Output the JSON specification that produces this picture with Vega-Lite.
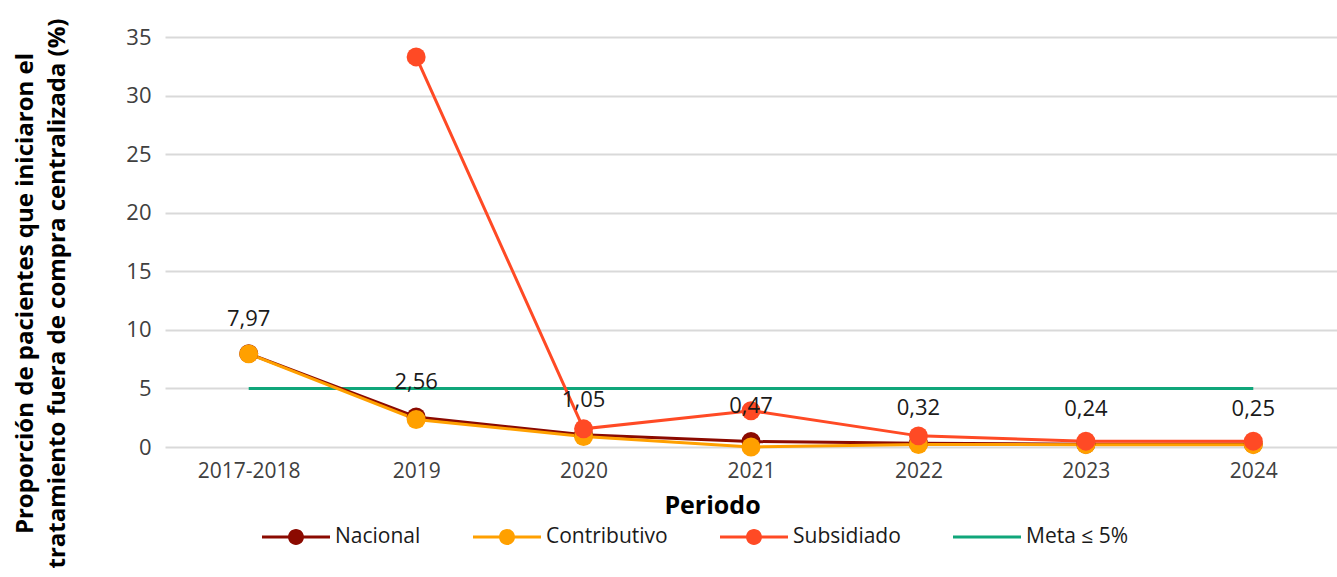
{
  "$schema": "https://vega.github.io/schema/vega-lite/v6.json",
  "width": 1172,
  "height": 410,
  "autosize": {"type": "none"},
  "padding": {"left": 165, "top": 37, "right": 0, "bottom": 130},
  "background": "white",
  "config": {
    "locale": {"number": {"decimal": ",", "thousands": ".", "grouping": [3], "currency": ["", " €"]}},
    "font": "Open Sans",
    "view": {"stroke": null},
    "axis": {"labelFont": "Open Sans", "titleFont": "Open Sans"},
    "legend": {"labelFont": "Open Sans"}
  },
  "data": {
    "values": [
      {"periodo": "2017-2018", "serie": "Meta ≤ 5%", "valor": 5},
      {"periodo": "2019", "serie": "Meta ≤ 5%", "valor": 5},
      {"periodo": "2020", "serie": "Meta ≤ 5%", "valor": 5},
      {"periodo": "2021", "serie": "Meta ≤ 5%", "valor": 5},
      {"periodo": "2022", "serie": "Meta ≤ 5%", "valor": 5},
      {"periodo": "2023", "serie": "Meta ≤ 5%", "valor": 5},
      {"periodo": "2024", "serie": "Meta ≤ 5%", "valor": 5},
      {"periodo": "2017-2018", "serie": "Nacional", "valor": 7.97},
      {"periodo": "2019", "serie": "Nacional", "valor": 2.56},
      {"periodo": "2020", "serie": "Nacional", "valor": 1.05},
      {"periodo": "2021", "serie": "Nacional", "valor": 0.47},
      {"periodo": "2022", "serie": "Nacional", "valor": 0.32},
      {"periodo": "2023", "serie": "Nacional", "valor": 0.24},
      {"periodo": "2024", "serie": "Nacional", "valor": 0.25},
      {"periodo": "2017-2018", "serie": "Contributivo", "valor": 7.95},
      {"periodo": "2019", "serie": "Contributivo", "valor": 2.35},
      {"periodo": "2020", "serie": "Contributivo", "valor": 0.9},
      {"periodo": "2021", "serie": "Contributivo", "valor": 0.0},
      {"periodo": "2022", "serie": "Contributivo", "valor": 0.22},
      {"periodo": "2023", "serie": "Contributivo", "valor": 0.2},
      {"periodo": "2024", "serie": "Contributivo", "valor": 0.2},
      {"periodo": "2019", "serie": "Subsidiado", "valor": 33.3},
      {"periodo": "2020", "serie": "Subsidiado", "valor": 1.55},
      {"periodo": "2021", "serie": "Subsidiado", "valor": 3.1},
      {"periodo": "2022", "serie": "Subsidiado", "valor": 0.95},
      {"periodo": "2023", "serie": "Subsidiado", "valor": 0.5},
      {"periodo": "2024", "serie": "Subsidiado", "valor": 0.5}
    ]
  },
  "encoding": {
    "x": {
      "field": "periodo", "type": "ordinal",
      "scale": {"type": "point", "padding": 0.5},
      "sort": ["2017-2018", "2019", "2020", "2021", "2022", "2023", "2024"],
      "axis": {
        "title": "Periodo", "labelAngle": 0, "domain": false, "ticks": false, "grid": false,
        "labelFontSize": 21, "labelColor": "#404040", "labelPadding": 13,
        "titleFontSize": 25, "titleFontWeight": "bold", "titleColor": "#000000",
        "titleX": 547, "titleY": 58, "titleBaseline": "middle"
      }
    },
    "y": {
      "field": "valor", "type": "quantitative",
      "scale": {"domain": [0, 35], "nice": false},
      "axis": {
        "values": [0, 5, 10, 15, 20, 25, 30, 35],
        "title": ["Proporción de pacientes que iniciaron el", "tratamiento fuera de compra centralizada (%)"],
        "domain": false, "ticks": false, "grid": true, "gridColor": "#D9D9D9", "gridWidth": 2,
        "labelFontSize": 22, "labelColor": "#404040", "labelPadding": 14,
        "titleFontSize": 24, "titleFontWeight": "bold", "titleColor": "#000000",
        "titleAngle": -90, "titleAlign": "center", "titleBaseline": "top",
        "titleX": -152, "titleY": 256, "titleLineHeight": 32
      }
    },
    "color": {
      "field": "serie", "type": "nominal",
      "scale": {
        "domain": ["Nacional", "Contributivo", "Subsidiado", "Meta ≤ 5%"],
        "range": ["#8B0A00", "#FFA000", "#FF4A25", "#10A67A"]
      },
      "legend": {
        "title": null, "orient": "none", "direction": "horizontal",
        "legendX": 97, "legendY": 466, "padding": 0,
        "symbolSize": 4624, "symbolStrokeWidth": 0, "symbolOpacity": 1,
        "labelFontSize": 21, "labelColor": "#1a1a1a", "labelOffset": 5,
        "columnPadding": 52
      }
    }
  },
  "layer": [
    {
      "transform": [{"filter": "false"}],
      "mark": {"type": "point", "filled": true, "opacity": 1},
      "encoding": {
        "shape": {
          "field": "serie", "type": "nominal",
          "scale": {
            "domain": ["Nacional", "Contributivo", "Subsidiado", "Meta ≤ 5%"],
            "range": [
              "M-1,-0.045H1V0.045H-1Z M-0.235,0A0.235,0.235 0 1,1 0.235,0A0.235,0.235 0 1,1 -0.235,0Z",
              "M-1,-0.045H1V0.045H-1Z M-0.235,0A0.235,0.235 0 1,1 0.235,0A0.235,0.235 0 1,1 -0.235,0Z",
              "M-1,-0.045H1V0.045H-1Z M-0.235,0A0.235,0.235 0 1,1 0.235,0A0.235,0.235 0 1,1 -0.235,0Z",
              "M-1,-0.045H1V0.045H-1Z"
            ]
          }
        }
      }
    },
    {
      "mark": {"type": "line", "strokeWidth": 3}
    },
    {
      "transform": [{"filter": "datum.serie !== 'Meta ≤ 5%'"}],
      "mark": {"type": "point", "filled": true, "shape": "circle", "size": 360, "opacity": 1}
    },
    {
      "transform": [{"filter": "datum.serie === 'Nacional'"}],
      "mark": {"type": "text", "dy": -35, "fontSize": 22, "color": "#1a1a1a"},
      "encoding": {
        "text": {"field": "valor", "type": "quantitative", "format": ".2f"},
        "color": {"value": "#1a1a1a"}
      }
    }
  ]
}
